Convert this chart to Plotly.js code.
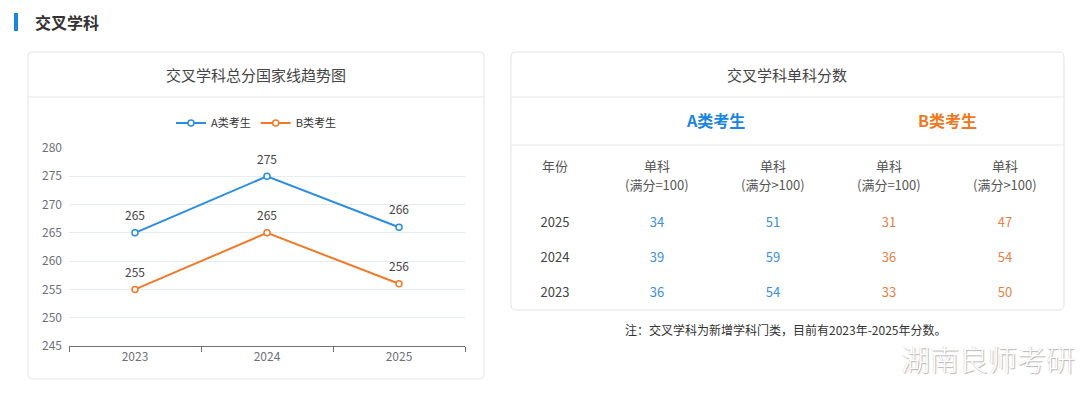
<!DOCTYPE html>
<html>
<head>
<meta charset="utf-8">
<script src="https://cdn.plot.ly/plotly-3.0.1.min.js"></script>
<style>
html,body{margin:0;padding:0;background:#fff;}
#chart{width:1080px;height:396px;}
</style>
</head>
<body>
<div id="chart"></div>
<script>
// ---- data ----
const years = ['2023', '2024', '2025'];
const seriesA = [265, 275, 266];
const seriesB = [255, 265, 256];
const seriesNames = ['A类考生', 'B类考生'];
const yTicks = [245, 250, 255, 260, 265, 270, 275, 280];

const tableYears = ['2025', '2024', '2023'];
const aFull100 = [34, 39, 36];
const aOver100 = [51, 59, 54];
const bFull100 = [31, 36, 33];
const bOver100 = [47, 54, 50];
const headerTop = ['年份', '单科', '单科', '单科', '单科'];
const headerSub = ['', '(满分=100)', '(满分>100)', '(满分=100)', '(满分>100)'];

const pageTitle = '交叉学科';
const chartTitle = '交叉学科总分国家线趋势图';
const tableTitle = '交叉学科单科分数';
const noteText = '注：交叉学科为新增学科门类，目前有2023年-2025年分数。';
const watermark = '湖南良师考研';

// ---- layout helpers ----
const W = 1080, H = 396;
const X = px => px / W;
const Y = py => 1 - py / H;
const BLUE = '#2b8de0', ORANGE = '#f07a2a';
const FONT = '"Noto Sans CJK SC", "Microsoft YaHei", sans-serif';

function rr(x0, y0, x1, y1, r) {
  const p = (x, y) => X(x) + ',' + Y(y);
  return 'M' + p(x0 + r, y0) + ' L' + p(x1 - r, y0) + ' Q' + p(x1, y0) + ' ' + p(x1, y0 + r) +
    ' L' + p(x1, y1 - r) + ' Q' + p(x1, y1) + ' ' + p(x1 - r, y1) +
    ' L' + p(x0 + r, y1) + ' Q' + p(x0, y1) + ' ' + p(x0, y1 - r) +
    ' L' + p(x0, y0 + r) + ' Q' + p(x0, y0) + ' ' + p(x0 + r, y0) + ' Z';
}
function hline(x0, x1, y, color) {
  return {type: 'line', xref: 'paper', yref: 'paper', x0: X(x0), x1: X(x1), y0: Y(y), y1: Y(y),
    line: {color: color, width: 1}};
}

// table column geometry (pixels)
const colWidths = [88, 116, 116, 116, 116];
const tableLeft = 511;
const colCenters = [];
{ let acc = tableLeft; colWidths.forEach(w => { colCenters.push(acc + w / 2); acc += w; }); }

const traces = [
  {x: years, y: seriesA, name: seriesNames[0], type: 'scatter', mode: 'lines+markers',
   line: {color: BLUE, width: 2}, marker: {symbol: 'circle', size: 6, color: '#fff', line: {color: BLUE, width: 1.5}},
   xaxis: 'x', yaxis: 'y', hoverinfo: 'x+y'},
  {x: years, y: seriesB, name: seriesNames[1], type: 'scatter', mode: 'lines+markers',
   line: {color: ORANGE, width: 2}, marker: {symbol: 'circle', size: 6, color: '#fff', line: {color: ORANGE, width: 1.5}},
   xaxis: 'x', yaxis: 'y', hoverinfo: 'x+y'},
  {x: years, y: seriesA, text: seriesA.map(String), type: 'scatter', mode: 'markers+text', textposition: 'top center',
   marker: {size: 14, color: 'rgba(0,0,0,0)'},
   textfont: {size: 12, color: '#444', family: FONT}, showlegend: false, hoverinfo: 'skip', xaxis: 'x', yaxis: 'y'},
  {x: years, y: seriesB, text: seriesB.map(String), type: 'scatter', mode: 'markers+text', textposition: 'top center',
   marker: {size: 14, color: 'rgba(0,0,0,0)'},
   textfont: {size: 12, color: '#444', family: FONT}, showlegend: false, hoverinfo: 'skip', xaxis: 'x', yaxis: 'y'},
  {type: 'table', domain: {x: [X(tableLeft), X(tableLeft + 552)], y: [Y(320), Y(193)]},
   columnwidth: colWidths,
   header: {values: [], height: 0,
     line: {width: 0, color: 'rgba(0,0,0,0)'}, fill: {color: 'rgba(0,0,0,0)'}},
   cells: {values: [tableYears, aFull100, aOver100, bFull100, bOver100], align: 'center', height: 35,
     line: {width: 0, color: 'rgba(0,0,0,0)'}, fill: {color: 'rgba(0,0,0,0)'},
     font: {family: FONT, size: 13, color: [['#444'], ['#3d8fdc'], ['#3d8fdc'], ['#ea7f45'], ['#ea7f45']]}}}
];

const shapes = [
  {type: 'rect', xref: 'paper', yref: 'paper', x0: X(14), x1: X(18), y0: Y(13), y1: Y(31),
   fillcolor: '#1a86e0', line: {width: 0}},
  {type: 'path', xref: 'paper', yref: 'paper', path: rr(28, 52, 484, 379, 5), line: {color: '#e3e3e3', width: 1}, fillcolor: 'rgba(0,0,0,0)', layer: 'below'},
  {type: 'path', xref: 'paper', yref: 'paper', path: rr(511, 52, 1064, 310, 5), line: {color: '#e3e3e3', width: 1}, fillcolor: 'rgba(0,0,0,0)', layer: 'below'},
  hline(28, 484, 97, '#e8e8e8'),
  hline(511, 1064, 97, '#e8e8e8'),
  hline(511, 1064, 145, '#e8e8e8')
];

function ann(text, px, py, size, color, opts) {
  return Object.assign({text: text, xref: 'paper', yref: 'paper', x: X(px), y: Y(py),
    xanchor: 'center', yanchor: 'middle', showarrow: false,
    font: {family: FONT, size: size, color: color}}, opts || {});
}

const annotations = [
  ann('<b>' + pageTitle + '</b>', 33, 22, 16, '#333', {xanchor: 'left'}),
  ann(chartTitle, 256, 74, 15, '#444'),
  ann(tableTitle, 787, 74, 15, '#444'),
  ann('<b>' + seriesNames[0] + '</b>', 715, 120, 16, '#1a86e0'),
  ann('<b>' + seriesNames[1] + '</b>', 947, 120, 16, '#f0781e'),
  ann(noteText, 785, 329, 12, '#333'),
  ann(watermark, 988, 358, 29, '#ffffff', {font: {family: FONT, size: 29, color: '#ffffff', weight: 300,
    shadow: '1px 1px 1px rgba(0,0,0,0.3), -1px 0px 0px rgba(0,0,0,0.12)'}})
];
headerTop.forEach((t, i) => annotations.push(ann(t, colCenters[i], 166, 13, '#555')));
headerSub.forEach((t, i) => { if (t) annotations.push(ann(t, colCenters[i], 185, 13, '#555')); });

const layout = {
  width: W, height: H, margin: {l: 0, r: 0, t: 0, b: 0},
  paper_bgcolor: '#fff', plot_bgcolor: 'rgba(0,0,0,0)',
  font: {family: FONT, size: 12, color: '#666'},
  showlegend: true,
  legend: {orientation: 'h', x: X(256), xanchor: 'center', y: Y(123), yanchor: 'middle',
    font: {family: FONT, size: 11, color: '#333'}, itemwidth: 30, bgcolor: 'rgba(0,0,0,0)'},
  xaxis: {domain: [X(69), X(465)], type: 'category', range: [-0.5, 2.5], tickson: 'boundaries',
    ticks: 'outside', ticklen: 5, tickcolor: '#6E7079', showline: true, linecolor: '#6E7079', linewidth: 1,
    showgrid: false, zeroline: false, anchor: 'y', tickfont: {size: 12, color: '#6E7079'}, fixedrange: true},
  yaxis: {domain: [Y(346), Y(148)], range: [245, 280], tickvals: yTicks, showgrid: true,
    gridcolor: '#E6EBF3', gridwidth: 1, zeroline: false, showline: false, ticks: '',
    ticklabelstandoff: 6, tickfont: {size: 12, color: '#6E7079'}, anchor: 'x', fixedrange: true},
  shapes: shapes,
  annotations: annotations
};

Plotly.newPlot('chart', traces, layout, {displayModeBar: false, staticPlot: true});
</script>
</body>
</html>
